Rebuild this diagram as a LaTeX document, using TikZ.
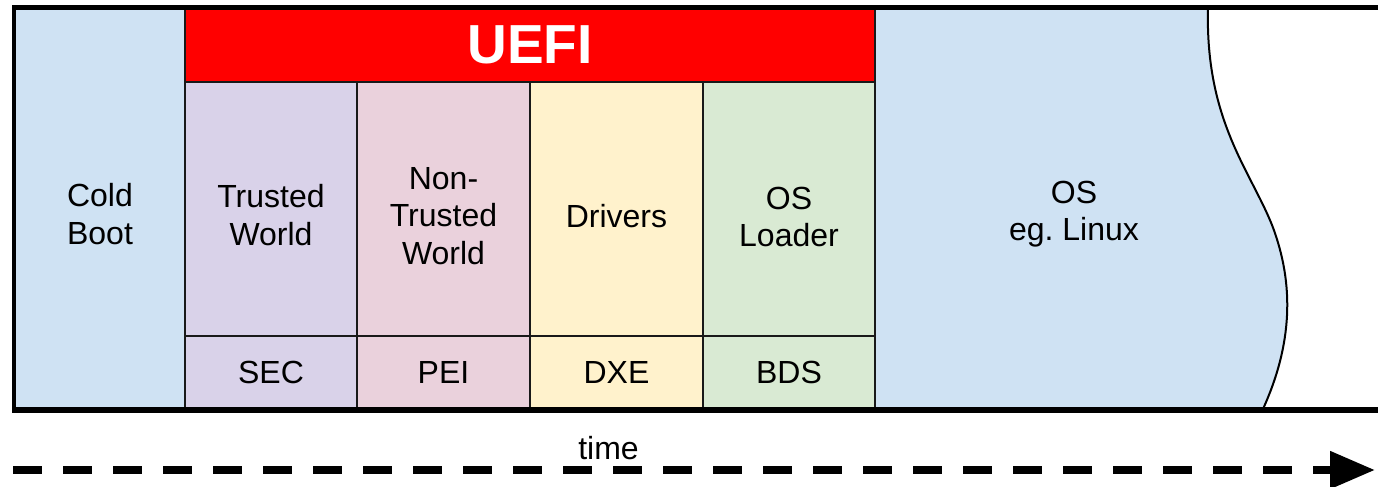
\documentclass[tikz,border=0pt]{standalone}
\usepackage{fontspec}
\setmainfont{Liberation Sans}
\usetikzlibrary{arrows.meta}
\frenchspacing

\definecolor{coldblue}{HTML}{CFE2F3}
\definecolor{trustedc}{HTML}{D9D2E9}
\definecolor{nontrustedc}{HTML}{EAD1DC}
\definecolor{driversc}{HTML}{FFF2CC}
\definecolor{loaderc}{HTML}{D9EAD3}
\definecolor{uefired}{HTML}{FF0000}

\tikzset{
  phase/.style={draw=black!90, line width=2pt, inner sep=0pt, outer sep=0pt,
    align=center, font=\fontsize{32}{37.5}\selectfont},
  bigframe/.style={line width=5pt, draw=black},
  timeline/.style={line width=8pt, dash pattern=on 29pt off 21pt,
    -{Triangle[length=45pt,width=36pt]}},
}

\begin{document}
\begin{tikzpicture}[x=1pt,y=-1pt]
\useasboundingbox (0,0) rectangle (1381,487);

% operating system region with a wavy right edge
\fill[coldblue] (875,8) -- (1208,8)
  .. controls (1205,120) and (1250,170) .. (1272,225)
  .. controls (1295,285) and (1292,345) .. (1263,409)
  -- (875,409) -- cycle;
\draw[line width=2pt] (1208,8)
  .. controls (1205,120) and (1250,170) .. (1272,225)
  .. controls (1295,285) and (1292,345) .. (1263,409);
\node[phase, draw=none] (os) at (1074,214) {OS\\eg.\ Linux};

% cold boot
\node[phase, fill=coldblue, minimum width=172pt, minimum height=401pt] (cold) at (99,208.5) {};
\node[phase, draw=none] (coldtxt) at (100,214) {Cold\\Boot};

% UEFI banner
\node[phase, fill=uefired, minimum width=690pt, minimum height=74pt,
  text=white, font=\fontsize{55}{60}\selectfont\bfseries] (uefi) at (530,45) {UEFI};

% UEFI phases: upper descriptions
\node[phase, fill=trustedc, minimum width=172pt, minimum height=254pt] (tw) at (271,209) {};
\node[phase, fill=nontrustedc, minimum width=173pt, minimum height=254pt] (ntw) at (443.5,209) {};
\node[phase, fill=driversc, minimum width=173pt, minimum height=254pt] (drv) at (616.5,209) {};
\node[phase, fill=loaderc, minimum width=172pt, minimum height=254pt] (osl) at (789,209) {};
\node[phase, draw=none] at (271,215) {Trusted\\World};
\node[phase, draw=none] at (443.5,216) {Non-\\Trusted\\World};
\node[phase, draw=none] at (616.5,216) {Drivers};
\node[phase, draw=none] at (789,217) {OS\\Loader};

% UEFI phases: short names
\node[phase, fill=trustedc, minimum width=172pt, minimum height=73pt] (sec) at (271,372.5) {SEC};
\node[phase, fill=nontrustedc, minimum width=173pt, minimum height=73pt] (pei) at (443.5,372.5) {PEI};
\node[phase, fill=driversc, minimum width=173pt, minimum height=73pt] (dxe) at (616.5,372.5) {DXE};
\node[phase, fill=loaderc, minimum width=172pt, minimum height=73pt] (bds) at (789,372.5) {BDS};

% outer frame
\draw[bigframe] (12,8) -- (1378,8);
\draw[bigframe, line width=5.5pt] (12,410) -- (1378,410);
\draw[line width=4pt] (14,6) -- (14,412);

% time axis
\coordinate (tstart) at (13,470);
\coordinate (tend) at (1375,470);
\draw[timeline] (tstart) -- (tend);
\node[font=\fontsize{32}{37.5}\selectfont, anchor=base] (time) at (608.5,459) {time};
\end{tikzpicture}
\end{document}
